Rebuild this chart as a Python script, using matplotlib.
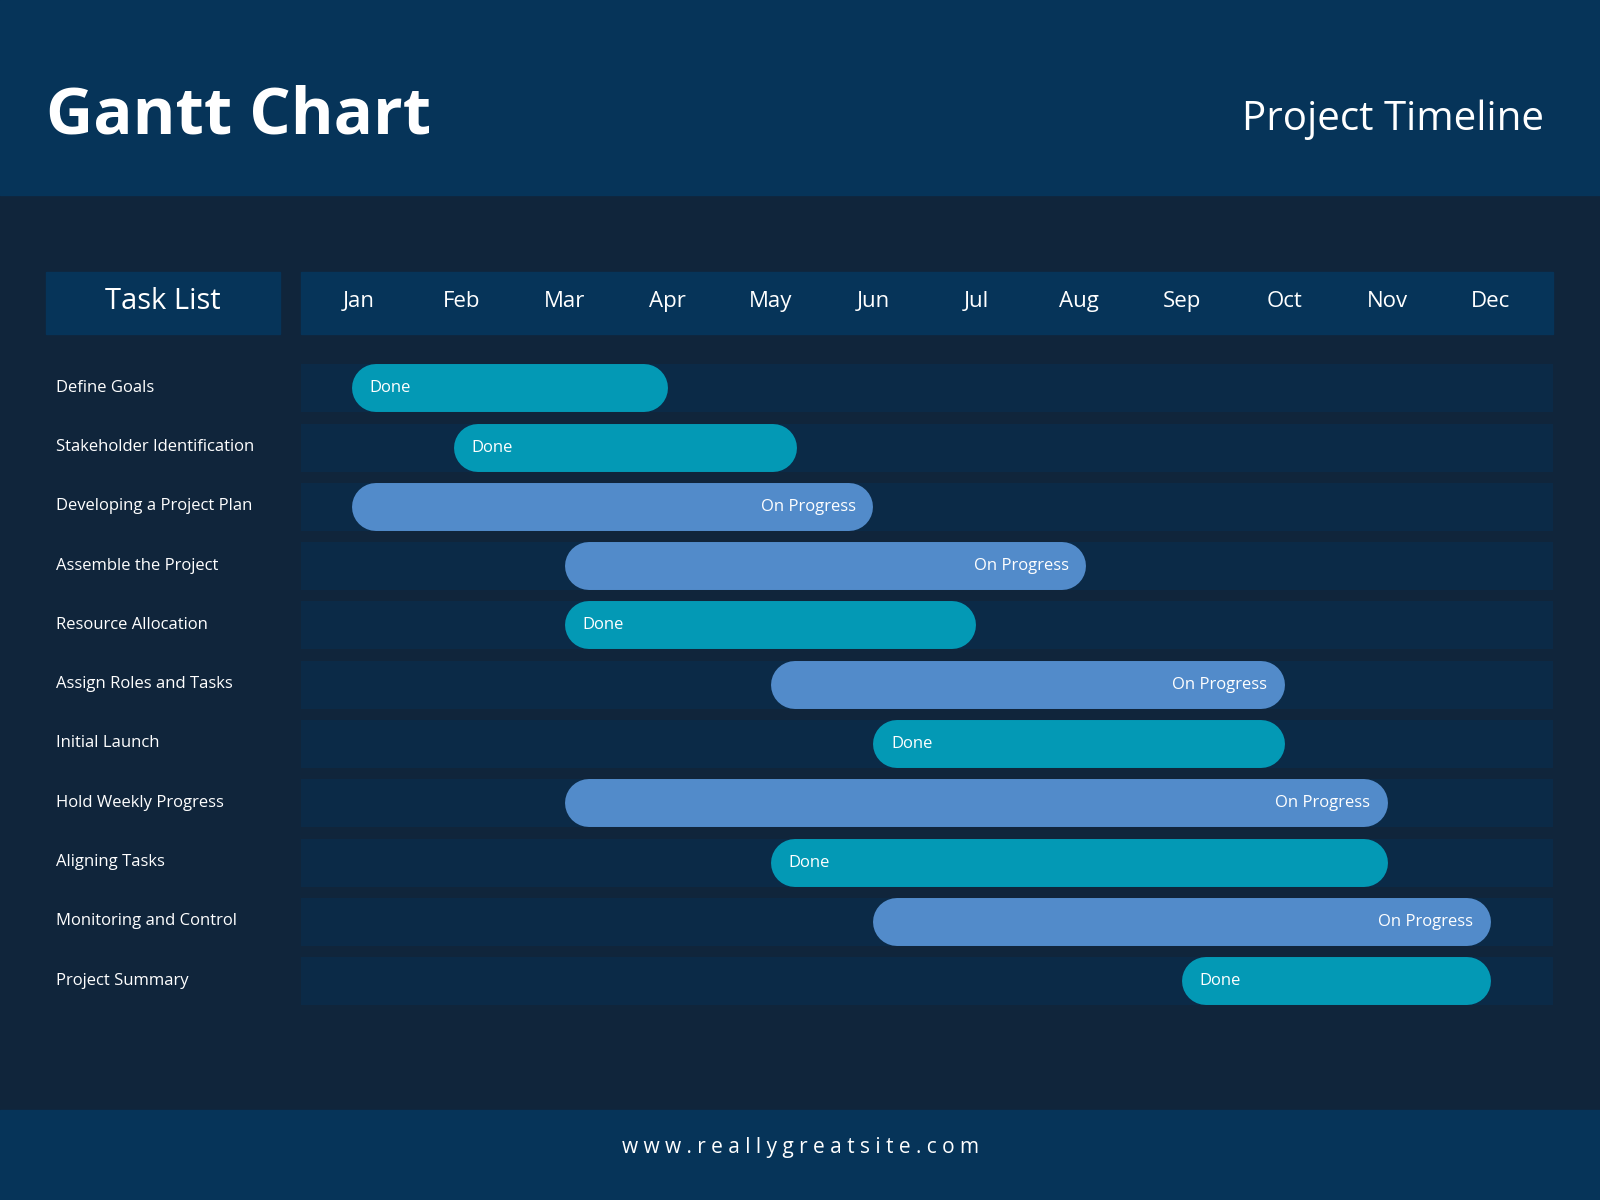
import matplotlib
matplotlib.use('Agg')
import matplotlib.pyplot as plt
from matplotlib.patches import Rectangle

plt.rcParams['font.family'] = ['Open Sans', 'DejaVu Sans']

# ---------------------------------------------------------------- data
months = ['Jan', 'Feb', 'Mar', 'Apr', 'May', 'Jun',
          'Jul', 'Aug', 'Sep', 'Oct', 'Nov', 'Dec']
tasks = ['Define Goals', 'Stakeholder Identification',
         'Developing a Project Plan', 'Assemble the Project',
         'Resource Allocation', 'Assign Roles and Tasks', 'Initial Launch',
         'Hold Weekly Progress', 'Aligning Tasks', 'Monitoring and Control',
         'Project Summary']
# month index, Jan = 0 (month label centres)
start = [-0.07, 0.92, -0.07, 2.0, 2.0, 4.0, 5.0, 2.0, 4.0, 5.0, 8.0]
end = [3.0, 4.26, 5.0, 7.07, 6.0, 9.0, 9.0, 10.0, 10.0, 11.0, 11.0]
status = ['Done', 'Done', 'On Progress', 'On Progress', 'Done',
          'On Progress', 'Done', 'On Progress', 'Done', 'On Progress', 'Done']

HEAD = '#063459'
BODY = '#10253b'
ROW = '#0b2a47'
COL = {'Done': '#0399b5', 'On Progress': '#528bca'}

W, H = 1568, 1176
fig = plt.figure(figsize=(16, 12), dpi=100)

# background canvas in reference pixel units
bg = fig.add_axes([0, 0, 1, 1])
bg.set_xlim(0, W); bg.set_ylim(H, 0); bg.axis('off')
bg.add_patch(Rectangle((0, 0), W, H, color=BODY))
bg.add_patch(Rectangle((0, 0), W, 191, color=HEAD))
bg.add_patch(Rectangle((0, 1088), W, 88, color=HEAD))
bg.add_patch(Rectangle((45, 267), 229, 60, color=HEAD))
bg.add_patch(Rectangle((295, 267), 1227, 60, color=HEAD))
bg.text(45, 115, 'Gantt Chart', color='white', fontsize=47,
        fontweight='bold', va='center', ha='left')
bg.text(1513, 117, 'Project Timeline', color='white', fontsize=29,
        va='center', ha='right')
bg.text(160, 295, 'Task List', color='white', fontsize=21,
        va='center', ha='center')
bg.text(784, 1125, 'w w w . r e a l l y g r e a t s i t e . c o m',
        color='white', fontsize=15, va='center', ha='center')

# gantt area
rowpx = 58.1
x0, x1 = 295, 1522
y0 = 380.5 - rowpx / 2
y1 = y0 + rowpx * len(tasks)
ax = fig.add_axes([x0 / W, 1 - y1 / H, (x1 - x0) / W, (y1 - y0) / H])
mpx = 100.8  # px per month
ax.set_xlim((x0 - 352) / mpx, (x1 - 352) / mpx)
n = len(tasks)
ax.set_ylim(n - 0.5, -0.5)
ax.axis('off')

for i, m in enumerate(months):
    bg.text(352 + mpx * i, 295, m, color='white', fontsize=16,
            va='center', ha='center')

r = 23.5 / mpx
lw = 47 * 72 / 100 * 1600 / W
for i, (t, s, e, st) in enumerate(zip(tasks, start, end, status)):
    ax.barh(i, ax.get_xlim()[1] - ax.get_xlim()[0], left=ax.get_xlim()[0],
            height=47 / rowpx, color=ROW)
    ax.plot([s + r, e - r], [i, i], color=COL[st], lw=lw,
            solid_capstyle='round')
    if st == 'Done':
        ax.text(s + 0.17, i, st, color='white', fontsize=12, va='center')
    else:
        ax.text(e - 0.17, i, st, color='white', fontsize=12, va='center',
                ha='right')
    bg.text(55, 380 + rowpx * i, t, color='white', fontsize=12, va='center')

fig.savefig('out.png', dpi=100)
